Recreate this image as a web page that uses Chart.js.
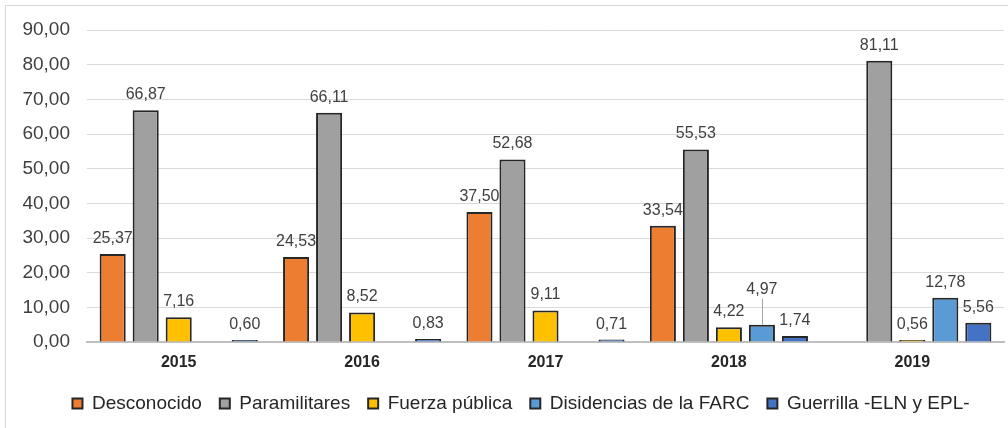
<!DOCTYPE html>
<html>
<head>
<meta charset="utf-8">
<script src="https://cdn.jsdelivr.net/npm/chart.js@4.4.1/dist/chart.umd.min.js"></script>
<style>
  html, body { margin: 0; padding: 0; background: #ffffff; overflow: hidden; }
  #wrap { position: relative; width: 1008px; height: 428px; }
  #frame { position: absolute; left: 5px; top: 5px; width: 1200px; height: 800px; border: 1px solid #d9d9d9; box-sizing: border-box; pointer-events: none; }
  canvas { position: absolute; left: 0; top: 0; }
</style>
</head>
<body>
<div id="wrap">
  <div id="frame"></div>
  <canvas id="c" width="1008" height="428"></canvas>
</div>
<script>
// ---- data ----
const years = ['2015', '2016', '2017', '2018', '2019'];
const seriesNames = ['Desconocido', 'Paramilitares', 'Fuerza pública', 'Disidencias de la FARC', 'Guerrilla -ELN y EPL-'];
const desconocido   = [25.37, 24.53, 37.50, 33.54, null];
const paramilitares = [66.87, 66.11, 52.68, 55.53, 81.11];
const fuerzaPublica = [7.16, 8.52, 9.11, 4.22, 0.56];
const disidencias   = [null, null, null, 4.97, 12.78];
const guerrilla     = [0.60, 0.83, 0.71, 1.74, 5.56];
const yTicks = [0, 10, 20, 30, 40, 50, 60, 70, 80, 90];

const colors = ['#ED7D31', '#A0A0A0', '#FFC000', '#5B9BD5', '#4472C4'];
const seriesValues = [desconocido, paramilitares, fuerzaPublica, disidencias, guerrilla];

const fmt = v => v.toFixed(2).replace('.', ',');

const valueLabels = {
  id: 'valueLabels',
  afterLayout(chart) {
    // legend centred on the reference's offset
    if (chart.legend) chart.legend.left = 38;
  },
  afterDatasetsDraw(chart) {
    const ctx = chart.ctx;
    ctx.save();
    ctx.font = '16px "Liberation Sans", Arial, sans-serif';
    ctx.fillStyle = '#404040';
    ctx.textAlign = 'center';
    ctx.textBaseline = 'alphabetic';
    chart.data.datasets.forEach((ds, di) => {
      const meta = chart.getDatasetMeta(di);
      meta.data.forEach((bar, i) => {
        const v = ds.data[i];
        if (v === null || v === undefined) return;
        let lift = 0;
        // label moved up with a leader line (2018, Disidencias)
        if (di === 3 && i === 3) lift = 20;
        const y = bar.y - 11 - lift;
        if (lift) {
          ctx.strokeStyle = '#a6a6a6';
          ctx.lineWidth = 1;
          ctx.beginPath();
          ctx.moveTo(Math.round(bar.x) + 0.5, y + 5);
          ctx.lineTo(Math.round(bar.x) + 0.5, bar.y);
          ctx.stroke();
        }
        ctx.fillText(fmt(v), bar.x, y);
      });
    });
    ctx.restore();
  }
};

new Chart(document.getElementById('c'), {
  type: 'bar',
  data: {
    labels: years,
    datasets: seriesValues.map((vals, k) => ({
      label: seriesNames[k],
      data: vals,
      backgroundColor: colors[k],
      borderColor: '#262626',
      borderWidth: 2,
      categoryPercentage: 0.9,
      barPercentage: 0.79
    }))
  },
  options: {
    responsive: false,
    animation: false,
    devicePixelRatio: 1,
    layout: { padding: { left: 0, right: 4, top: 30, bottom: 5 } },
    plugins: {
      tooltip: { enabled: false },
      legend: {
        position: 'bottom',
        labels: {
          boxWidth: 10,
          boxHeight: 10,
          padding: 18,
          color: '#262626',
          font: { size: 19, family: '"Liberation Sans", Arial, sans-serif' }
        }
      }
    },
    scales: {
      x: {
        grid: { display: false, drawTicks: false },
        border: { display: true, color: '#bfbfbf', width: 2 },
        ticks: {
          padding: 11,
          color: '#262626',
          font: { size: 16, weight: 'bold', family: '"Liberation Sans", Arial, sans-serif' }
        },
        afterFit(scale) { scale.height = 34; }
      },
      y: {
        min: 0,
        max: 90,
        afterBuildTicks(scale) { scale.ticks = yTicks.map(v => ({ value: v })); },
        grid: { color: '#d9d9d9', lineWidth: 1, drawTicks: false },
        border: { display: false },
        ticks: {
          padding: 17,
          color: '#404040',
          font: { size: 19, family: '"Liberation Sans", Arial, sans-serif' },
          callback: v => fmt(v)
        },
        afterFit(scale) { scale.width = 87; }
      }
    }
  },
  plugins: [valueLabels]
});
</script>
</body>
</html>
